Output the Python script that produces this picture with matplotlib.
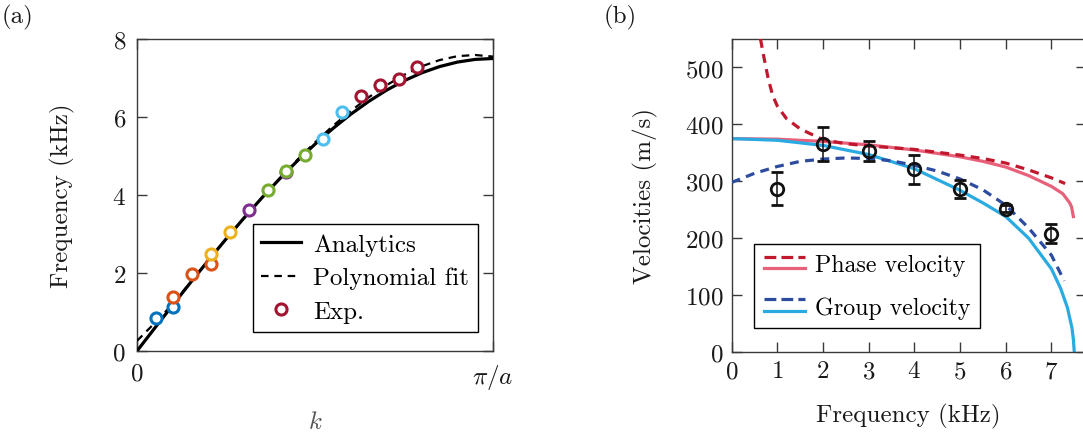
import matplotlib
matplotlib.use("Agg")
import matplotlib.pyplot as plt
from matplotlib.lines import Line2D
from matplotlib.legend_handler import HandlerBase

plt.rcParams['font.family'] = ['cmr10', 'DejaVu Serif']
plt.rcParams['mathtext.fontset'] = 'cm'
plt.rcParams['axes.formatter.use_mathtext'] = True
plt.rcParams['axes.unicode_minus'] = False

FS = 18

# ---------------- Panel (a) data ----------------
k_norm = [0.0, 0.05, 0.1, 0.15, 0.2, 0.25, 0.3, 0.35, 0.4, 0.45, 0.5,
          0.55, 0.6, 0.65, 0.7, 0.75, 0.8, 0.85, 0.9, 0.95, 1.0]
f_analytic = [0.0, 0.589, 1.173, 1.751, 2.318, 2.870, 3.405, 3.919, 4.408, 4.871, 5.303,
              5.703, 6.068, 6.394, 6.683, 6.929, 7.133, 7.293, 7.408, 7.477, 7.5]
f_polyfit = [0.26, 0.72, 1.20, 1.76, 2.32, 2.87, 3.40, 3.92, 4.42, 4.90, 5.35,
             5.77, 6.15, 6.50, 6.81, 7.08, 7.30, 7.46, 7.56, 7.59, 7.55]

exp_k = [0.053, 0.102, 0.102, 0.155, 0.209, 0.207, 0.261, 0.314, 0.367, 0.419,
         0.419, 0.472, 0.523, 0.577, 0.629, 0.682, 0.735, 0.787]
exp_f = [0.84, 1.14, 1.39, 1.97, 2.22, 2.48, 3.04, 3.62, 4.13, 4.58,
         4.62, 5.03, 5.44, 6.12, 6.53, 6.83, 6.97, 7.28]
exp_colors = ['#0072BD', '#0072BD', '#D95319', '#D95319', '#D95319', '#EDB120',
              '#EDB120', '#7E2F8E', '#77AC30', '#7E2F8E', '#77AC30', '#77AC30',
              '#4DBEEE', '#4DBEEE', '#A2142F', '#A2142F', '#A2142F', '#A2142F']

# ---------------- Panel (b) data ----------------
phase_an_f = [0, 1, 2, 3, 4, 5, 5.5, 6, 6.5, 7, 7.25, 7.4, 7.44, 7.48]
phase_an_v = [375, 374, 370, 364, 355, 343, 335, 325, 310, 291, 278, 262, 255, 238]

group_an_f = [0, 1, 2, 3, 4, 5, 5.5, 6, 6.5, 7, 7.2, 7.35, 7.45, 7.48, 7.5]
group_an_v = [375, 372, 363, 347, 322, 284, 262, 238, 200, 146, 112, 78, 42, 22, 0]

phase_fit_f = [0.63, 0.7, 0.8, 0.9, 1.0, 1.2, 1.5, 2.0, 2.5, 3, 4, 5, 5.5, 6, 6.5, 7, 7.3]
phase_fit_v = [550, 520, 480, 450, 432, 410, 392, 373, 366, 362, 356, 346, 340, 332, 320, 306, 296]

group_fit_f = [0, 0.5, 1, 1.5, 2, 2.5, 3, 3.5, 4, 4.5, 5, 5.5, 6, 6.5, 7, 7.28]
group_fit_v = [298, 314, 326, 335, 339, 341, 340, 336, 328, 318, 304, 285, 258, 218, 170, 125]

meas_f = [1, 2, 3, 4, 5, 6, 7]
meas_v = [287, 366, 353, 321, 286, 252, 208]
meas_err = [29, 30, 18, 25, 16, 6, 17]

SPINE = '#3a3a3a'
TXT = '#1a1a1a'

fig = plt.figure(figsize=(10.83, 4.35), dpi=100)
W, H = 1083, 435

def px_axes(x0, x1, ytop, ybot):
    return [x0 / W, 1 - ybot / H, (x1 - x0) / W, (ybot - ytop) / H]

axa = fig.add_axes(px_axes(137, 493, 40, 352))
axb = fig.add_axes(px_axes(731.7, 1085.7, 40, 353))

for ax in (axa, axb):
    for s in ax.spines.values():
        s.set_color(SPINE)
        s.set_linewidth(1.0)
    ax.tick_params(direction='in', length=7, width=1.0, colors=SPINE,
                   labelcolor=TXT, labelsize=FS, top=True, right=True)

# ---- Panel (a) ----
axa.plot(k_norm, f_analytic, color='black', lw=2.3, label='Analytics', zorder=3)
axa.plot(k_norm, f_polyfit, color='black', lw=1.6, ls=(0, (3.4, 2.6)),
         label='Polynomial fit', zorder=3)
for kk, ff, cc in zip(exp_k, exp_f, exp_colors):
    axa.plot([kk], [ff], ls='none', marker='o', ms=8, mfc='white', mec=cc,
             mew=2.2, zorder=4)
exp_handle = Line2D([], [], ls='none', marker='o', ms=8, mfc='white',
                    mec='#A2142F', mew=2.2)
h1, l1 = axa.get_legend_handles_labels()
axa.legend(h1 + [exp_handle], l1 + ['Exp.'], loc='lower right',
           bbox_to_anchor=(0.958, 0.061), borderaxespad=0, fontsize=FS,
           fancybox=False, framealpha=1, edgecolor='black', handlelength=1.6,
           handletextpad=0.48, labelspacing=0.45, borderpad=0.35)
axa.get_legend().get_frame().set_linewidth(1.0)

axa.set_xlim(0, 1)
axa.set_ylim(0, 8)
axa.set_xticks([0, 1])
axa.set_xticklabels(['0', r'$\pi/a$'])
axa.set_yticks([0, 2, 4, 6, 8])
axa.tick_params(axis='y', pad=8)
axa.tick_params(axis='x', pad=8)
axa.set_ylabel('Frequency (kHz)', fontsize=FS, color=TXT, labelpad=27)
axa.set_xlabel(r'$k$', fontsize=FS, color='#555555', labelpad=14)

# ---- Panel (b) ----
class HandlerStack(HandlerBase):
    def create_artists(self, legend, orig_handle, xdescent, ydescent,
                       width, height, fontsize, trans):
        top, bot = orig_handle
        arts = []
        yc = height / 2 - ydescent
        for h, dy in ((top, 4.2), (bot, -4.2)):
            ln = Line2D([-xdescent, width - xdescent], [yc + dy, yc + dy],
                        color=h.get_color(), linewidth=h.get_linewidth(),
                        linestyle=h.get_linestyle(), transform=trans)
            arts.append(ln)
        return arts

c_pd = '#C2182E'
c_ps = '#E8617B'
c_gd = '#2D4C9F'
c_gs = '#29AAE1'
ph_s, = axb.plot(phase_an_f, phase_an_v, color=c_ps, lw=2.3, zorder=2)
gr_s, = axb.plot(group_an_f, group_an_v, color=c_gs, lw=2.3, zorder=2)
ph_d, = axb.plot(phase_fit_f, phase_fit_v, color=c_pd, lw=2.3,
                 ls=(0, (2.8, 2.0)), zorder=3)
gr_d, = axb.plot(group_fit_f, group_fit_v, color=c_gd, lw=2.3,
                 ls=(0, (2.8, 2.0)), zorder=3)
axb.errorbar(meas_f, meas_v, yerr=meas_err, fmt='o', ms=9, mfc='none',
             mec='#111111', mew=2.0, ecolor='#111111', elinewidth=1.1,
             capsize=4.5, capthick=1.1, zorder=5)

leg = axb.legend([(ph_d, ph_s), (gr_d, gr_s)], ['Phase velocity', 'Group velocity'],
                 handler_map={tuple: HandlerStack()}, loc='upper left',
                 bbox_to_anchor=(0.063, 0.345), borderaxespad=0, fontsize=17.2,
                 fancybox=False, framealpha=1, edgecolor='black', handlelength=1.75,
                 handletextpad=0.4, labelspacing=0.85, borderpad=0.4)
leg.get_frame().set_linewidth(1.0)

axb.set_xlim(0, 7.75)
axb.set_ylim(0, 550)
axb.set_xticks(range(0, 8))
axb.set_yticks(range(0, 501, 100))
axb.tick_params(axis='both', pad=6)
axb.set_ylabel('Velocities (m/s)', fontsize=FS, color=TXT, labelpad=19)
axb.set_xlabel('Frequency (kHz)', fontsize=FS, color=TXT, labelpad=15)

fig.text(18 / W, 1 - 17 / H, '(a)', fontsize=FS, color=TXT, ha='center', va='center')
fig.text(620 / W, 1 - 17 / H, '(b)', fontsize=FS, color=TXT, ha='center', va='center')

fig.savefig('out.png', dpi=100)
